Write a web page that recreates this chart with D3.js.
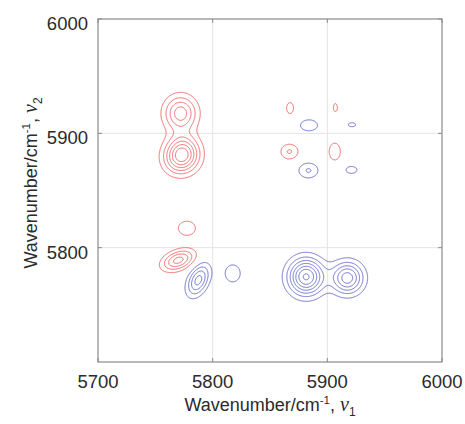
<!DOCTYPE html>
<html>
<head>
<meta charset="utf-8">
<script src="https://cdn.jsdelivr.net/npm/d3@7"></script>
<style>
  body { margin: 0; background: #fff; }
  svg text { font-family: "Liberation Sans", Arial, sans-serif; fill: #2b2b2b; }
</style>
</head>
<body>
<svg id="chart" width="465" height="424"></svg>
<script>
// peak list: nu1, nu2 centre, signed height (contour units),
// widths along the rotated axes (cm-1) and tilt (deg, ccw from nu1 axis)
var peakNu1   = [5772, 5774, 5767, 5770, 5777.5, 5787.5, 5817.5, 5881.5, 5917.5, 5867.5, 5907, 5884, 5921.5, 5867, 5906.5, 5883.5, 5921];
var peakNu2   = [5917.5, 5882, 5876, 5789, 5817, 5771.5, 5777.5, 5774.5, 5773.5, 5922, 5922.5, 5907, 5907.5, 5884, 5884, 5867.5, 5868];
var peakAmp   = [4.6, 6.2, 1.2, 4.4, 1.5, -4.4, -1.5, -7.2, -5.6, 1.4, 1.2, -1.5, -1.2, 2.1, 1.6, -2.1, -1.3];
var peakSig1  = [9.8, 9.8, 9, 10, 8.2, 10, 7.2, 10.5, 9.5, 3.7, 2.9, 8.2, 5.2, 6.1, 5, 6.8, 6.6];
var peakSig2  = [10.5, 10.5, 9, 5.6, 6.8, 5.8, 8.2, 10.8, 9.5, 5.9, 5.8, 5.3, 2.9, 5.3, 7.6, 5.3, 4.2];
var peakAngle = [0, 0, 0, 20, 0, 65, 0, 0, 0, 0, 0, 0, 0, 0, 0, 0, 0];

var levels = [1, 2, 3, 4, 5, 6, 7, 8];
var xTicks = [5700, 5800, 5900, 6000];
var yTicks = [5800, 5900, 6000];

var margin = {top: 19, left: 98};
var w = 344, h = 343;
var lo = 5700, hi = 6000, step = 0.5;
var n = Math.round((hi - lo) / step);

var svg = d3.select("#chart");
var g = svg.append("g").attr("transform", "translate(" + margin.left + "," + margin.top + ")");

var x = d3.scaleLinear().domain([lo, hi]).range([0, w]);
var y = d3.scaleLinear().domain([lo, hi]).range([h, 0]);

// grid lines
g.selectAll(".gx").data([5800, 5900]).join("line")
    .attr("x1", d => x(d)).attr("x2", d => x(d))
    .attr("y1", 0).attr("y2", h)
    .attr("stroke", "#e4e4e4").attr("stroke-width", 1);
g.selectAll(".gy").data([5800, 5900]).join("line")
    .attr("y1", d => y(d)).attr("y2", d => y(d))
    .attr("x1", 0).attr("x2", w)
    .attr("stroke", "#e4e4e4").attr("stroke-width", 1);

// field on a grid
var values = new Float64Array(n * n);
for (var j = 0; j < n; j++) {
    var yv = lo + (j + 0.5) * step;
    for (var i = 0; i < n; i++) {
        var xv = lo + (i + 0.5) * step;
        var s = 0;
        for (var k = 0; k < peakNu1.length; k++) {
            var dx = xv - peakNu1[k], dy = yv - peakNu2[k];
            if (Math.abs(dx) > 60 || Math.abs(dy) > 60) continue;
            var a = peakAngle[k] * Math.PI / 180;
            var u = dx * Math.cos(a) + dy * Math.sin(a);
            var v = -dx * Math.sin(a) + dy * Math.cos(a);
            s += peakAmp[k] * Math.exp(-(u * u) / (2 * peakSig1[k] * peakSig1[k]) - (v * v) / (2 * peakSig2[k] * peakSig2[k]));
        }
        values[j * n + i] = s;
    }
}
var neg = values.map(d => -d);

var path = d3.geoPath(d3.geoTransform({
    point: function(px, py) { this.stream.point(x(lo + px * step), y(lo + py * step)); }
}));

var contours = d3.contours().size([n, n]).thresholds(levels);

g.append("g").selectAll("path").data(contours(values)).join("path")
    .attr("d", path).attr("fill", "none")
    .attr("stroke", "#ef6a6a").attr("stroke-width", 1);
g.append("g").selectAll("path").data(contours(neg)).join("path")
    .attr("d", path).attr("fill", "none")
    .attr("stroke", "#6b6fcf").attr("stroke-width", 1);

// box and inward ticks
g.append("rect").attr("width", w).attr("height", h)
    .attr("fill", "none").attr("stroke", "#8a8a8a").attr("stroke-width", 1.2);
var tl = 4;
g.selectAll(".tb").data(xTicks).join("line")
    .attr("x1", d => x(d)).attr("x2", d => x(d)).attr("y1", h).attr("y2", h - tl)
    .attr("stroke", "#8a8a8a");
g.selectAll(".tt").data(xTicks).join("line")
    .attr("x1", d => x(d)).attr("x2", d => x(d)).attr("y1", 0).attr("y2", tl)
    .attr("stroke", "#8a8a8a");
g.selectAll(".tlft").data(yTicks).join("line")
    .attr("y1", d => y(d)).attr("y2", d => y(d)).attr("x1", 0).attr("x2", tl)
    .attr("stroke", "#8a8a8a");
g.selectAll(".trgt").data(yTicks).join("line")
    .attr("y1", d => y(d)).attr("y2", d => y(d)).attr("x1", w).attr("x2", w - tl)
    .attr("stroke", "#8a8a8a");

// tick labels
g.selectAll(".xl").data(xTicks).join("text")
    .attr("x", d => x(d)).attr("y", h + 26)
    .attr("text-anchor", "middle").attr("font-size", 18.5)
    .text(d => d);
g.selectAll(".yl").data(yTicks).join("text")
    .attr("x", -10).attr("y", d => y(d) + 11)
    .attr("text-anchor", "end").attr("font-size", 18.5)
    .text(d => d);

// axis titles
var xt = svg.append("text").attr("x", 270).attr("y", 411)
    .attr("text-anchor", "middle").attr("font-size", 18);
xt.append("tspan").text("Wavenumber/cm");
xt.append("tspan").attr("font-size", 11.5).attr("dy", -7).text("-1");
xt.append("tspan").attr("dy", 7).text(", ");
xt.append("tspan").attr("font-family", "Liberation Serif, serif").attr("font-style", "italic").attr("font-size", 20).text("\u03bd");
xt.append("tspan").attr("font-size", 12).attr("dy", 5).text("1");

var yt = svg.append("text").attr("transform", "translate(37,183) rotate(-90)")
    .attr("text-anchor", "middle").attr("font-size", 18);
yt.append("tspan").text("Wavenumber/cm");
yt.append("tspan").attr("font-size", 11.5).attr("dy", -7).text("-1");
yt.append("tspan").attr("dy", 7).text(", ");
yt.append("tspan").attr("font-family", "Liberation Serif, serif").attr("font-style", "italic").attr("font-size", 20).text("\u03bd");
yt.append("tspan").attr("font-size", 12).attr("dy", 5).text("2");
</script>
</body>
</html>
